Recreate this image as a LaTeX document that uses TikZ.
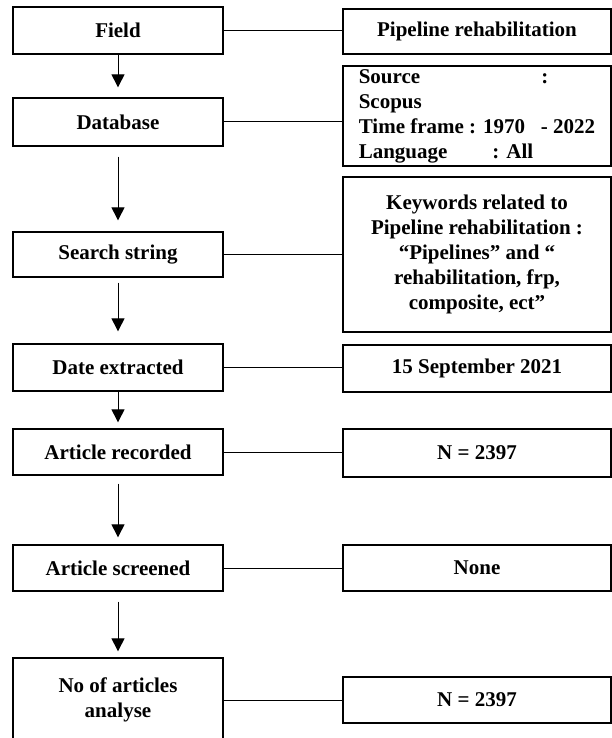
\documentclass[tikz,border=0pt]{standalone}
\usepackage{fontspec}
\setmainfont{Liberation Serif}
\usetikzlibrary{arrows.meta}

\begin{document}
\begin{tikzpicture}[x=1pt, y=-1pt,
    every node/.style={font=\fontsize{21}{25}\selectfont\bfseries},
    leftbox/.style={draw, line width=1.3pt, minimum width=210pt, minimum height=46pt, inner sep=0pt, align=center},
    rightbox/.style={draw, line width=1.3pt, minimum width=268pt, minimum height=46pt, inner sep=0pt, align=center},
    flow/.style={line width=1pt, -{Triangle[width=13pt, length=13pt]}},
    link/.style={line width=1pt}]
    \path[use as bounding box, clip] (0,0) rectangle (612,738);

    % left column
    \node[leftbox, minimum height=47pt] (field) at (118, 30.5) {Field};
    \node[leftbox, minimum height=48pt] (database) at (118, 122) {Database};
    \node[leftbox, minimum height=45pt] (search) at (118, 254.5) {Search string};
    \node[leftbox, minimum height=47pt] (extracted) at (118, 367.5) {Date extracted};
    \node[leftbox] (recorded) at (118, 452) {Article recorded};
    \node[leftbox] (screened) at (118, 568) {Article screened};
    \node[leftbox, minimum height=84pt] (analysed) at (118, 700) {No of articles\\analyse};

    % right column
    \node[rightbox, minimum height=45pt] (pipe) at (477, 31.5) {Pipeline rehabilitation};
    \node[rightbox, minimum height=100pt, align=left] (source) at (477, 116) {Source\hspace{121pt}:\\Scopus\\Time frame : 1970 \ \ - 2022\\Language\hspace{45pt}: All};
    \node[rightbox, minimum height=155pt] (keywords) at (477, 254.5) {Keywords related to\\Pipeline rehabilitation :\\“Pipelines” and “\\rehabilitation, frp,\\composite, ect”};
    \node[rightbox, minimum height=47pt] (sept) at (477, 368.5) {15 September 2021};
    \node[rightbox, minimum height=48pt] (nrec) at (477, 453) {N = 2397};
    \node[rightbox] (none) at (477, 568) {None};
    \node[rightbox] (nana) at (477, 700) {N = 2397};

    % arrows down
    \draw[flow, shorten >=10pt] (field) -- (database);
    \draw[flow, shorten <=10pt, shorten >=11pt] (database) -- (search);
    \draw[flow, shorten <=5pt, shorten >=12pt] (search) -- (extracted);
    \draw[flow, shorten >=6pt] (extracted) -- (recorded);
    \draw[flow, shorten <=8pt, shorten >=7pt] (recorded) -- (screened);
    \draw[flow, shorten <=10pt, shorten >=6pt] (screened) -- (analysed);

    % links across
    \draw[link] (field.east) -- (field.east -| pipe.west);
    \draw[link] (database.east) -- (database.east -| source.west);
    \draw[link] (search.east) -- (search.east -| keywords.west);
    \draw[link] (extracted.east) -- (extracted.east -| sept.west);
    \draw[link] (recorded.east) -- (recorded.east -| nrec.west);
    \draw[link] (screened.east) -- (screened.east -| none.west);
    \draw[link] (analysed.east) -- (analysed.east -| nana.west);
\end{tikzpicture}
\end{document}
